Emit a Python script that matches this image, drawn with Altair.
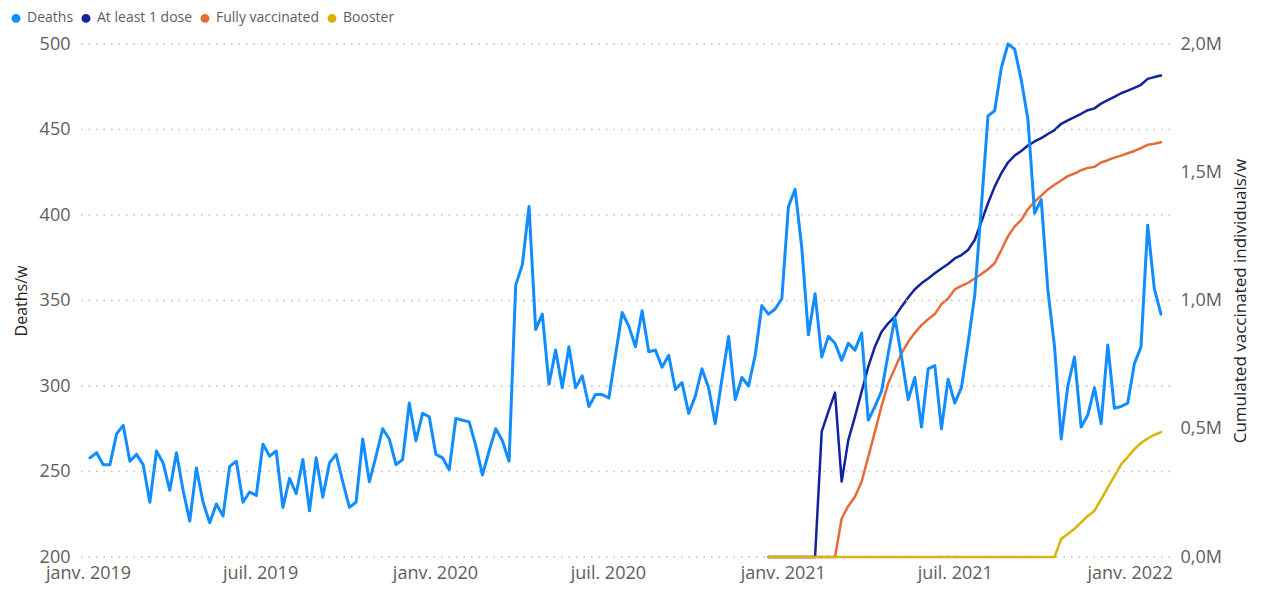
import altair as alt
import pandas as pd

# Weekly deaths (left axis)
deaths = [258, 261, 254, 254, 272, 277, 256, 260, 254, 232,
          262, 255, 239, 261, 239, 221, 252, 232, 220, 231,
          224, 253, 256, 232, 238, 236, 266, 259, 262, 229,
          246, 237, 257, 227, 258, 235, 255, 260, 244, 229,
          232, 269, 244, 259, 275, 269, 254, 257, 290, 268,
          284, 282, 260, 258, 251, 281, 280, 279, 265, 248,
          262, 275, 268, 256, 359, 371, 405, 333, 342, 301,
          321, 299, 323, 299, 306, 288, 295, 295, 293, 318,
          343, 335, 323, 344, 320, 321, 311, 318, 298, 302,
          284, 294, 310, 299, 278, 304, 329, 292, 305, 300,
          318, 347, 342, 345, 351, 405, 415, 381, 330, 354,
          317, 329, 325, 315, 325, 321, 331, 280, 288, 297,
          319, 340, 317, 292, 305, 276, 310, 312, 275, 304,
          290, 299, 325, 353, 405, 458, 461, 486, 500, 497,
          479, 456, 401, 409, 356, 323, 269, 300, 317, 276,
          283, 299, 278, 324, 287, 288, 290, 313, 323, 394,
          357, 342]

# Cumulated vaccinated individuals (millions, right axis), from week 103 on
dose1 = [0, 0, 0, 0, 0, 0, 0, 0,
         0.489, 0.567, 0.641, 0.294, 0.456, 0.547, 0.645, 0.742, 0.820, 0.878,
         0.911, 0.937, 0.976, 1.012, 1.044, 1.067, 1.086, 1.106, 1.125, 1.142,
         1.164, 1.177, 1.197, 1.236, 1.307, 1.379, 1.444, 1.496, 1.538, 1.565,
         1.583, 1.604, 1.620, 1.633, 1.649, 1.664, 1.689, 1.702, 1.715, 1.728,
         1.742, 1.749, 1.768, 1.781, 1.794, 1.808, 1.818, 1.829, 1.841, 1.864,
         1.871, 1.877]
fully = [0, 0, 0, 0, 0, 0, 0, 0, 0, 0, 0,
         0.150, 0.199, 0.235, 0.294, 0.391, 0.489, 0.589, 0.677, 0.736, 0.794,
         0.839, 0.874, 0.904, 0.927, 0.947, 0.986, 1.008, 1.043, 1.057, 1.069,
         1.086, 1.103, 1.122, 1.145, 1.197, 1.250, 1.288, 1.314, 1.356, 1.385,
         1.409, 1.433, 1.451, 1.468, 1.485, 1.495, 1.508, 1.517, 1.521, 1.538,
         1.547, 1.557, 1.565, 1.574, 1.583, 1.594, 1.607, 1.611, 1.617]
booster = [0, 0, 0, 0, 0, 0, 0, 0, 0, 0, 0, 0, 0, 0, 0, 0, 0, 0, 0, 0, 0, 0,
           0, 0, 0, 0, 0, 0, 0, 0, 0, 0, 0, 0, 0, 0, 0, 0, 0, 0, 0, 0, 0, 0,
           0.070, 0.090, 0.110, 0.135, 0.160, 0.180, 0.225, 0.270, 0.315, 0.360,
           0.390, 0.420, 0.445, 0.462, 0.476, 0.487]

series_names = ["Deaths", "At least 1 dose", "Fully vaccinated", "Booster"]
series_colors = ["#118DFF", "#12239E", "#E66C37", "#D9B300"]
left_ticks = [200, 250, 300, 350, 400, 450, 500]
right_ticks = [0, 500000, 1000000, 1500000, 2000000]
tick_dates = ["2019-01-01", "2019-07-01", "2020-01-01", "2020-07-01",
              "2021-01-01", "2021-07-01", "2022-01-01"]

dates = pd.date_range("2019-01-03", periods=len(deaths), freq="7D")
vacc_dates = dates[len(deaths) - len(dose1):]

df_d = pd.DataFrame({"date": dates.strftime("%Y-%m-%d"), "value": deaths,
                     "series": "Deaths"})
parts = []
for name, arr in [("At least 1 dose", dose1), ("Fully vaccinated", fully),
                  ("Booster", booster)]:
    parts.append(pd.DataFrame({"date": vacc_dates.strftime("%Y-%m-%d"),
                               "value": [v * 1e6 for v in arr],
                               "series": name}))
df_v = pd.concat(parts, ignore_index=True)
df_g = pd.DataFrame({"value": left_ticks})


def ms(ts):
    return int(pd.Timestamp(ts).value // 10**6)


dom0 = ms(dates[0] - pd.Timedelta(hours=252))
dom1 = ms(dates[-1] + pd.Timedelta(hours=228))
tick_ms = [ms(t) for t in tick_dates]

FONT = "Open Sans"
LABEL_C = "#605E5C"
TITLE_C = "#252423"

x_enc = alt.X(
    "date:T",
    scale=alt.Scale(type="utc", domain=[dom0, dom1]),
    axis=alt.Axis(values=tick_ms, title=None, grid=False, ticks=False, tickSize=0,
                  domain=False, labelPadding=7, labelFontSize=18, labelFont=FONT,
                  labelColor=LABEL_C, labelOverlap=False, labelFlush=False,
                  labelBound=False,
                  labelExpr="(utcmonth(datum.value) == 0 ? 'janv. ' : 'juil. ') + utcyear(datum.value)"),
)

color_enc = alt.Color(
    "series:N",
    scale=alt.Scale(domain=series_names, range=series_colors),
    legend=alt.Legend(orient="none", legendX=-71, legendY=-33, direction="horizontal",
                      title=None, symbolType="circle", symbolSize=20,
                      symbolStrokeWidth=4.5, labelFontSize=14, labelFont=FONT,
                      labelColor=LABEL_C, columnPadding=0, labelOffset=4),
)

left_scale = alt.Scale(domain=[200, 500], zero=False, nice=False)
left_axis = alt.Axis(orient="left", values=left_ticks, title="Deaths/w",
                     grid=False, ticks=False, tickSize=0, domain=False,
                     labelPadding=10, labelFontSize=18, labelFont=FONT,
                     labelColor=LABEL_C, titleFont=FONT, titleFontSize=16,
                     titleFontWeight="normal", titleColor=TITLE_C,
                     titlePadding=10)

grid_layer = alt.Chart(df_g).mark_rule(
    color="#BDBDBD", strokeWidth=1.5, strokeDash=[1.5, 6]
).encode(
    y=alt.Y("value:Q", scale=left_scale, axis=left_axis)
)

deaths_layer = alt.Chart(df_d).mark_line(strokeWidth=3, strokeJoin="round",
                                         strokeCap="round").encode(
    x=x_enc,
    y=alt.Y("value:Q", scale=left_scale, axis=left_axis),
    color=color_enc,
)

vacc_layer = alt.Chart(df_v).mark_line(strokeWidth=2.5, strokeJoin="round",
                                       strokeCap="round").encode(
    x=x_enc,
    y=alt.Y("value:Q",
            scale=alt.Scale(domain=[0, 2000000], nice=False),
            axis=alt.Axis(orient="right", values=right_ticks,
                          title="Cumulated vaccinated individuals/w",
                          grid=False, ticks=False, tickSize=0, domain=False,
                          labelPadding=10, labelFontSize=18, labelFont=FONT,
                          labelColor=LABEL_C,
                          labelExpr="replace(format(datum.value / 1000000, '.1f'), '.', ',') + 'M'",
                          titleFont=FONT, titleFontSize=17, titleFontWeight="normal",
                          titleColor=TITLE_C, titleAngle=270, titleBaseline="top",
                          titlePadding=11)),
    color=color_enc,
)

left = alt.layer(grid_layer, deaths_layer)

chart = alt.layer(vacc_layer, left).resolve_scale(
    y="independent"
).properties(
    width=1090, height=513,
    autosize=alt.AutoSizeParams(type="none"),
    padding={"left": 72, "top": 36, "right": 84, "bottom": 27},
).configure_view(stroke=None)

chart.save("out.html", embed_options={"renderer": "svg", "actions": False})
